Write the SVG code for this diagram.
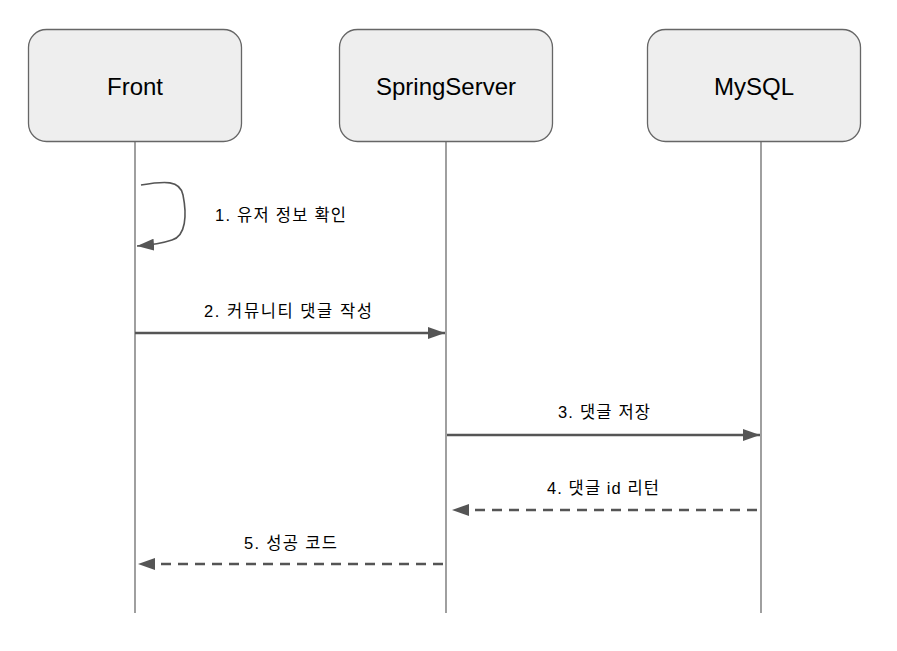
<svg xmlns="http://www.w3.org/2000/svg" width="897" height="651" viewBox="0 0 897 651">
<style>
.box{fill:#eeeeee;stroke:#666666;stroke-width:1.3}
.title{font-family:"Liberation Sans",Arial,sans-serif;font-size:24px;fill:#000;text-anchor:middle}
.life{stroke:#888888;stroke-width:1.6;fill:none}
.msg{stroke:#555555;stroke-width:2.4;fill:none}
.dash{stroke-dasharray:10 7}
.lbl{font-family:"Liberation Sans","Noto Sans CJK KR",sans-serif;font-size:16.5px;fill:#000;text-anchor:middle}
</style>
<defs>
<marker id="ah2" viewBox="0 0 17 12" refX="17" refY="6" markerWidth="17" markerHeight="12" markerUnits="userSpaceOnUse" orient="auto">
<path d="M0,0 L17,6 L0,12 z" fill="#555555"/>
</marker>
</defs>
<rect width="897" height="651" fill="#ffffff"/>
<g id="lifelines">
<line class="life" x1="135" y1="142" x2="135" y2="613"/>
<line class="life" x1="446" y1="142" x2="446" y2="613"/>
<line class="life" x1="761" y1="142" x2="761" y2="613"/>
</g>
<g id="front">
<rect class="box" x="28.5" y="29.5" width="213" height="112" rx="18"/>
<text class="title" x="135" y="95">Front</text>
</g>
<g id="springserver">
<rect class="box" x="339.5" y="29.5" width="213" height="112" rx="18"/>
<text class="title" x="446" y="95">SpringServer</text>
</g>
<g id="mysql">
<rect class="box" x="647.5" y="29.5" width="213" height="112" rx="18"/>
<text class="title" x="754" y="95">MySQL</text>
</g>
<g id="connectors">
<path class="msg" style="stroke-width:1.6" d="M141,185 C165,181 180,180 183,195 C187,215 186,236 172,240 C160,244 150,245 137,246" marker-end="url(#ah2)"/>
<text class="lbl" x="280.5" y="221" textLength="131" lengthAdjust="spacing">1. 유저 정보 확인</text>
<line class="msg" x1="135" y1="333" x2="445" y2="333" marker-end="url(#ah2)"/>
<text class="lbl" x="288" y="317" textLength="168" lengthAdjust="spacing">2. 커뮤니티 댓글 작성</text>
<line class="msg" x1="447" y1="435" x2="760" y2="435" marker-end="url(#ah2)"/>
<text class="lbl" x="604" y="418" textLength="92" lengthAdjust="spacing">3. 댓글 저장</text>
<line class="msg dash" x1="757" y1="510" x2="452" y2="510" marker-end="url(#ah2)"/>
<text class="lbl" x="603" y="494" textLength="112" lengthAdjust="spacing">4. 댓글 id 리턴</text>
<line class="msg dash" x1="443" y1="564" x2="138" y2="564" marker-end="url(#ah2)"/>
<text class="lbl" x="290.5" y="549" textLength="93" lengthAdjust="spacing">5. 성공 코드</text>
</g>
</svg>
